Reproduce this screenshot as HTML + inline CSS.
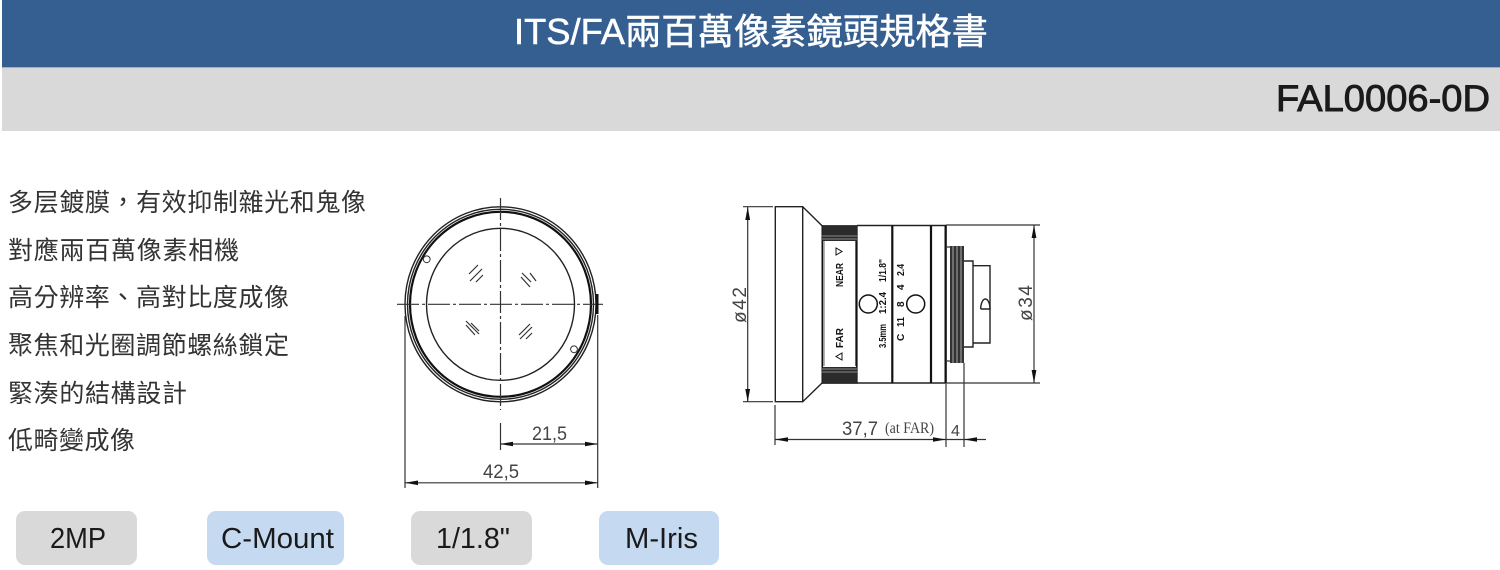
<!DOCTYPE html>
<html lang="zh-Hant">
<head>
<meta charset="utf-8">
<title>FAL0006-0D</title>
<style>
html,body{margin:0;padding:0;background:#fff}
body{width:1500px;height:570px;overflow:hidden}
svg{display:block}
.cjk{font-family:"Liberation Sans","Noto Sans CJK TC",sans-serif}
.l{fill:none;stroke:#333;stroke-width:1.2}
.m{fill:none;stroke:#222;stroke-width:1.4}
.h{fill:none;stroke:#111;stroke-width:2.2}
.a{fill:#111;stroke:none}
.dim{font-family:"Liberation Sans",sans-serif;font-size:19px;fill:#444}
.t{font-family:"Liberation Sans",sans-serif;font-weight:bold;font-size:10px;fill:#111}
.list{font-size:25px;fill:#333}
</style>
</head>
<body>
<svg width="1500" height="570" viewBox="0 0 1500 570" xmlns="http://www.w3.org/2000/svg">
<rect x="2" y="0" width="1498" height="67.5" fill="#365f91"/>
<rect x="2" y="68" width="1498" height="63" fill="#d9d9d9"/>
<text class="cjk" x="514" y="44" font-size="36" fill="#fff" stroke="#fff" stroke-width=".5" textLength="474" lengthAdjust="spacingAndGlyphs">ITS/FA兩百萬像素鏡頭規格書</text>
<text class="cjk" x="1276" y="111" font-size="37" fill="#1a1a1a" stroke="#1a1a1a" stroke-width=".9" textLength="214" lengthAdjust="spacingAndGlyphs">FAL0006-0D</text>

<g class="cjk list">
<text x="8" y="211" textLength="358">多层鍍膜&#xFF0C;有效抑制雜光和鬼像</text>
<text x="8" y="259" textLength="231">對應兩百萬像素相機</text>
<text x="8" y="306" textLength="281">高分辨率、高對比度成像</text>
<text x="8" y="354" textLength="281">聚焦和光圈調節螺絲鎖定</text>
<text x="8" y="402" textLength="179">緊湊的結構設計</text>
<text x="8" y="449" textLength="127">低畸變成像</text>
</g>

<!-- front view -->
<g>
<ellipse class="m" cx="500.5" cy="304.3" rx="95.5" ry="97.5"/>
<ellipse class="m" cx="500.5" cy="304.3" rx="93" ry="95"/>
<ellipse class="h" cx="500.5" cy="304.3" rx="90.5" ry="92.5"/>
<ellipse class="m" cx="500.5" cy="304.3" rx="74" ry="76"/>
<circle cx="426.7" cy="259.3" r="3.4" fill="#fff" stroke="#333" stroke-width="1"/>
<circle cx="574" cy="349.3" r="3.4" fill="#fff" stroke="#333" stroke-width="1"/>
<path d="M397 304.3H603" class="l" stroke-dasharray="22 3 3 3"/>
<path d="M500.5 198V410" class="l" stroke-dasharray="22 3 3 3"/>
<path d="M500.5 423V450" class="l"/>
<rect x="595.5" y="294" width="3" height="20" fill="#111"/>
<g class="l">
<path d="M469 274L478 265M470 281L482 269M476 282L483 275"/>
<path d="M522 273L531 282M521 277L530 287M530 273L536 281"/>
<path d="M466 325L475 335M466 321L479 334M471 323L479 331"/>
<path d="M519 335L530 324M520 339L532 327M526 339L532 333"/>
</g>
<path class="l" d="M405 316V488M597.7 315V488M500.5 444H597.7M405 482.8H597.7"/>
<path class="a" d="M500.5 444L513 441.7V446.3ZM597.7 444L585 441.7V446.3ZM405 482.8L418 480.5V485.1ZM597.7 482.8L585 480.5V485.1Z"/>
<text class="dim" x="532" y="440" textLength="35" lengthAdjust="spacingAndGlyphs">21,5</text>
<text class="dim" x="483" y="478" textLength="36" lengthAdjust="spacingAndGlyphs">42,5</text>
</g>

<!-- side view -->
<g>
<path class="m" d="M775.3 206.7H802.7V401.7H775.3ZM802.7 206.7L822.3 226M802.7 401.7L822.3 382.7"/>
<rect x="822.3" y="226" width="34.5" height="157" fill="#fff" stroke="#111" stroke-width="1.6"/>
<rect x="822.3" y="226" width="34.5" height="15" fill="#2b2b2b"/>
<rect x="822.3" y="367" width="34.5" height="16" fill="#2b2b2b"/>
<path d="M822 236H857M822 239H857M822 369H857M822 372H857" stroke="#888" stroke-width="1"/>
<path d="M824 241V366M855.500 241V366" stroke="#666" stroke-width="1" fill="none"/>
<path class="m" d="M857 225.5H946V383H857"/>
<path class="h" d="M892.3 225.5V383M931 225.5V383"/>
<path class="h" d="M945.6 225V383"/>
<path class="l" d="M946 247H950M946 361H950"/>
<rect x="950" y="246" width="14" height="117" fill="#333"/>
<path d="M953 246V363M957 246V363M961 246V363" stroke="#aaa" stroke-width="1"/>
<path class="m" d="M964 261H973V347H964M973 265.7H990V343H973M973 261V347"/>
<path class="m" d="M980.700 309A4.650 10 0 0 1 990 309H980.700"/>
<circle cx="868.3" cy="304" r="9" fill="none" stroke="#111" stroke-width="1.5"/>
<circle cx="915.7" cy="304" r="9" fill="none" stroke="#111" stroke-width="1.5"/>

<path class="l" d="M946 225H1040M946 383H1040M743 206.7H773M743 401.7H773M747.7 207V402M1034 225V383M775 405V445M946 384V447M964 363V447M775 439.5H986"/>
<path class="a" d="M747.7 207L745.3 220H750.1ZM747.7 402L745.3 389H750.1ZM1034 225L1031.6 238H1036.4ZM1034 383L1031.6 370H1036.4ZM775 439.5L788 437.2V441.8ZM946 439.5L933 437.2V441.8ZM964 439.5L977 437.2V441.8Z"/>

<text class="dim" transform="translate(746,323) rotate(-90)" textLength="36">ø42</text>
<text class="dim" transform="translate(1032,321) rotate(-90)" textLength="36">ø34</text>
<text class="dim" x="842" y="435" textLength="36" lengthAdjust="spacingAndGlyphs">37,7</text>
<text x="885" y="433" font-family="Liberation Serif,serif" font-size="16" fill="#444" textLength="49" lengthAdjust="spacingAndGlyphs">(at FAR)</text>
<text class="dim" x="951" y="436" style="font-size:16px">4</text>

<g class="t">
<text transform="translate(843,287) rotate(-90)" textLength="24" lengthAdjust="spacingAndGlyphs">NEAR</text>
<text transform="translate(843,348) rotate(-90)" textLength="20" lengthAdjust="spacingAndGlyphs">FAR</text>
<text transform="translate(886,282) rotate(-90)" textLength="23" lengthAdjust="spacingAndGlyphs">1/1.8"</text>
<text transform="translate(886,314) rotate(-90)" textLength="22" lengthAdjust="spacingAndGlyphs">1:2.4</text>
<text transform="translate(886,348) rotate(-90)" textLength="24" lengthAdjust="spacingAndGlyphs">3.5mm</text>
<text transform="translate(904,276) rotate(-90)" textLength="12" lengthAdjust="spacingAndGlyphs">2.4</text>
<text transform="translate(904,290) rotate(-90)">4</text>
<text transform="translate(904,307) rotate(-90)">8</text>
<text transform="translate(904,327) rotate(-90)" textLength="10" lengthAdjust="spacingAndGlyphs">11</text>
<text transform="translate(904,341) rotate(-90)">C</text>
</g>
<path d="M836 248V255L842 251.5ZM842 353V360L836 356.5Z" fill="none" stroke="#111" stroke-width="1"/>
</g>

<!-- pills -->
<g>
<rect x="16" y="511" width="121" height="54" rx="9" fill="#d9d9d9"/>
<rect x="207" y="511" width="137" height="54" rx="9" fill="#c5d9f1"/>
<rect x="411" y="511" width="121" height="54" rx="9" fill="#d9d9d9"/>
<rect x="599" y="511" width="120" height="54" rx="9" fill="#c5d9f1"/>
</g>
<g font-family="Liberation Sans,sans-serif" font-size="29" fill="#1a1a1a">
<text x="50" y="548" textLength="56" lengthAdjust="spacingAndGlyphs">2MP</text>
<text x="221" y="548" textLength="113" lengthAdjust="spacingAndGlyphs">C-Mount</text>
<text x="436" y="548" textLength="74" lengthAdjust="spacingAndGlyphs">1/1.8"</text>
<text x="625" y="548" textLength="73" lengthAdjust="spacingAndGlyphs">M-Iris</text>
</g>
</svg>
</body>
</html>
